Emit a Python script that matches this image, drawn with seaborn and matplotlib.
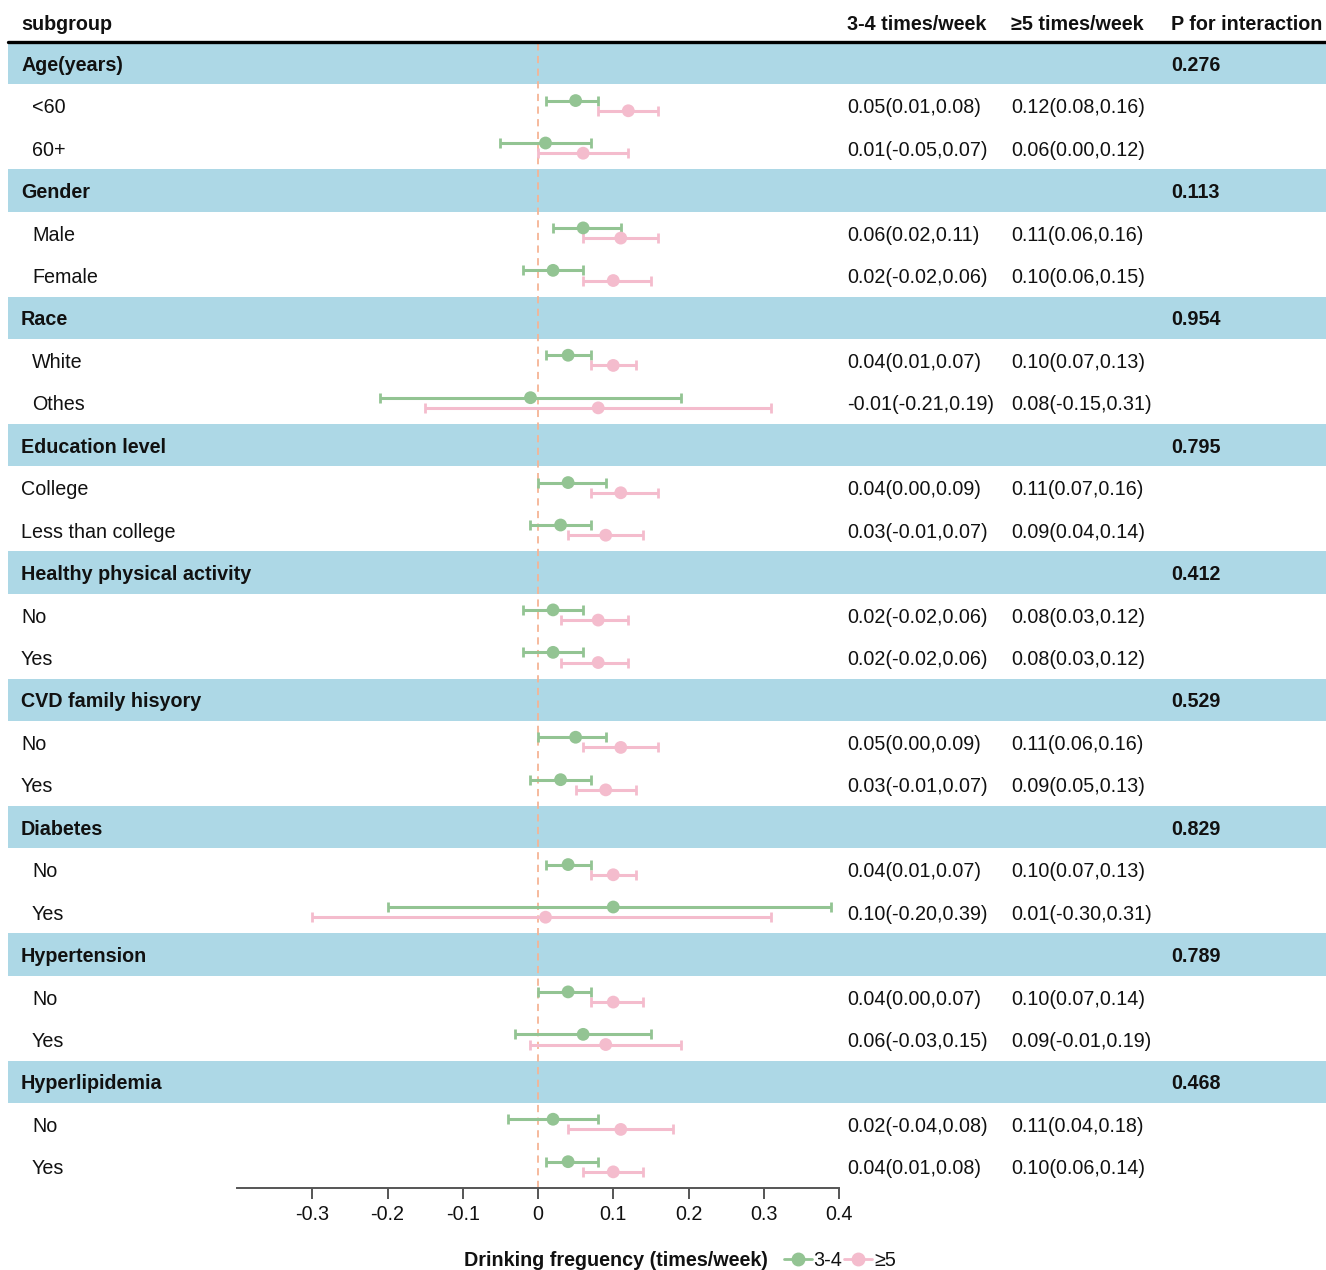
import numpy as np
import pandas as pd
import matplotlib
matplotlib.use("Agg")
import matplotlib.pyplot as plt
import matplotlib.transforms as mtransforms
from matplotlib.patches import Rectangle
from matplotlib.lines import Line2D
import seaborn as sns

# ---- data -----------------------------------------------------------------
groups = ["Age(years)", "Gender", "Race", "Education level",
          "Healthy physical activity", "CVD family hisyory", "Diabetes",
          "Hypertension", "Hyperlipidemia"]
p_interaction = ["0.276", "0.113", "0.954", "0.795", "0.412",
                 "0.529", "0.829", "0.789", "0.468"]
subgroups = [["<60", "60+"], ["Male", "Female"], ["White", "Othes"],
             ["College", "Less than college"], ["No", "Yes"], ["No", "Yes"],
             ["No", "Yes"], ["No", "Yes"], ["No", "Yes"]]
indent = [True, True, True, False, False, False, True, True, True]

# 3-4 times/week
est_34 = [0.05, 0.01, 0.06, 0.02, 0.04, -0.01, 0.04, 0.03, 0.02,
          0.02, 0.05, 0.03, 0.04, 0.10, 0.04, 0.06, 0.02, 0.04]
lo_34 = [0.01, -0.05, 0.02, -0.02, 0.01, -0.21, 0.00, -0.01, -0.02,
         -0.02, 0.00, -0.01, 0.01, -0.20, 0.00, -0.03, -0.04, 0.01]
hi_34 = [0.08, 0.07, 0.11, 0.06, 0.07, 0.19, 0.09, 0.07, 0.06,
         0.06, 0.09, 0.07, 0.07, 0.39, 0.07, 0.15, 0.08, 0.08]
# >=5 times/week
est_5 = [0.12, 0.06, 0.11, 0.10, 0.10, 0.08, 0.11, 0.09, 0.08,
         0.08, 0.11, 0.09, 0.10, 0.01, 0.10, 0.09, 0.11, 0.10]
lo_5 = [0.08, 0.00, 0.06, 0.06, 0.07, -0.15, 0.07, 0.04, 0.03,
        0.03, 0.06, 0.05, 0.07, -0.30, 0.07, -0.01, 0.04, 0.06]
hi_5 = [0.16, 0.12, 0.16, 0.15, 0.13, 0.31, 0.16, 0.14, 0.12,
        0.12, 0.16, 0.13, 0.13, 0.31, 0.14, 0.19, 0.18, 0.14]

x_ticks = [-0.3, -0.2, -0.1, 0, 0.1, 0.2, 0.3, 0.4]
x_tick_labels = ["-0.3", "-0.2", "-0.1", "0", "0.1", "0.2", "0.3", "0.4"]

# ---- style ----------------------------------------------------------------
sns.set_theme(style="white")
plt.rcParams["font.family"] = ["Liberation Sans", "DejaVu Sans"]
plt.rcParams["text.color"] = "#111111"
plt.rcParams["xtick.labelcolor"] = "#111111"
FS = 14.2
GREEN = "#93C493"
PINK = "#F4BCCD"
BAND = "#ADD8E6"
REF = "#F6B495"

W, H = 1326, 1270
fig = plt.figure(figsize=(W / 100, H / 100), dpi=100)
ax = fig.add_axes([237 / W, 1 - 1188 / H, 602 / W, (1188 - 42) / H])

# ---- table layout ---------------------------------------------------------
rows = []  # (label, kind, group index, sub index)
k = 0
for gi, g in enumerate(groups):
    rows.append((g, "group", gi, None))
    for s in subgroups[gi]:
        rows.append((s, "sub", gi, k))
        k += 1
n_rows = len(rows)

records = []
for ri, (lab, kind, gi, si) in enumerate(rows):
    if kind == "sub":
        records.append(dict(row=ri, freq="3-4", est=est_34[si], lo=lo_34[si],
                            hi=hi_34[si], y=ri - 0.12))
        records.append(dict(row=ri, freq="≥5", est=est_5[si], lo=lo_5[si],
                            hi=hi_5[si], y=ri + 0.12))
df = pd.DataFrame(records)

ax.set_xlim(-0.4, 0.4)
ax.set_ylim(n_rows - 0.5, -0.5)

fig_x = mtransforms.blended_transform_factory(fig.transFigure, ax.transData)

def fx(px):
    return px / W

# header bands
for ri, (lab, kind, gi, si) in enumerate(rows):
    if kind == "group":
        ax.add_patch(Rectangle((fx(8), ri - 0.5), fx(W) - fx(8), 1.0,
                               transform=fig_x, facecolor=BAND,
                               edgecolor="none", clip_on=False, zorder=0))

# reference line at zero
ax.axvline(0, color=REF, lw=1.3, ls=(0, (4, 3)), zorder=1)

# confidence intervals
palette = {"3-4": GREEN, "≥5": PINK}
for freq, sub in df.groupby("freq", sort=False):
    ax.errorbar(sub["est"], sub["y"],
                xerr=[sub["est"] - sub["lo"], sub["hi"] - sub["est"]],
                fmt="none", ecolor=palette[freq], elinewidth=2.2,
                capsize=3.4, capthick=2, zorder=2)

sns.scatterplot(data=df, x="est", y="y", hue="freq", palette=palette,
                s=85, edgecolor="none", legend=False, zorder=3, ax=ax)

# text columns
col_x = {"sub": 21, "indent": 32, "c1": 847, "c2": 1011, "p": 1171}
VA = "center_baseline"
for ri, (lab, kind, gi, si) in enumerate(rows):
    if kind == "group":
        ax.text(fx(col_x["sub"]), ri, lab, transform=fig_x, fontsize=FS,
                fontweight="bold", va=VA, ha="left")
        ax.text(fx(col_x["p"]), ri, p_interaction[gi], transform=fig_x,
                fontsize=FS, fontweight="bold", va=VA, ha="left")
    else:
        xl = col_x["indent"] if indent[gi] else col_x["sub"]
        ax.text(fx(xl), ri, lab, transform=fig_x, fontsize=FS,
                va=VA, ha="left")
        t1 = f"{est_34[si]:.2f}({lo_34[si]:.2f},{hi_34[si]:.2f})"
        t2 = f"{est_5[si]:.2f}({lo_5[si]:.2f},{hi_5[si]:.2f})"
        ax.text(fx(col_x["c1"]), ri, t1, transform=fig_x, fontsize=FS,
                va=VA, ha="left")
        ax.text(fx(col_x["c2"]), ri, t2, transform=fig_x, fontsize=FS,
                va=VA, ha="left")

# column header
hy = -0.95
for key, txt in [("sub", "subgroup"), ("c1", "3-4 times/week"),
                 ("c2", "≥5 times/week"), ("p", "P for interaction")]:
    ax.text(fx(col_x[key]), hy, txt, transform=fig_x, fontsize=FS,
            fontweight="bold", va=VA, ha="left")
ax.add_line(Line2D([fx(8), fx(W)], [-0.5, -0.5], transform=fig_x,
                   color="black", lw=2.4, clip_on=False))

# axes styling
for side in ["top", "right", "left"]:
    ax.spines[side].set_visible(False)
ax.spines["bottom"].set_color("#555555")
ax.spines["bottom"].set_linewidth(1.4)
ax.set_xticks(x_ticks)
ax.set_xticklabels(x_tick_labels)
ax.set_yticks([])
ax.tick_params(axis="x", bottom=True, direction="out", length=8, width=1.4,
               color="#555555", labelsize=FS, pad=4)
ax.set_xlabel("")
ax.set_ylabel("")
ax.grid(False)

# legend
fig.text(464 / W, 1 - 1260 / H, "Drinking freguency (times/week)",
         fontsize=FS, fontweight="bold", va="center", ha="left")
handles = [Line2D([0], [0], color=GREEN, lw=2, marker="o", markersize=9),
           Line2D([0], [0], color=PINK, lw=2, marker="o", markersize=9)]
fig.legend(handles, ["3-4", "≥5"], loc="center left",
           bbox_to_anchor=(784 / W, 1 - 1260 / H), ncol=2, frameon=False,
           fontsize=FS, handlelength=1.4, handletextpad=0.1,
           columnspacing=0.1, borderaxespad=0, borderpad=0)

fig.savefig("out.png", dpi=100, facecolor="white")
